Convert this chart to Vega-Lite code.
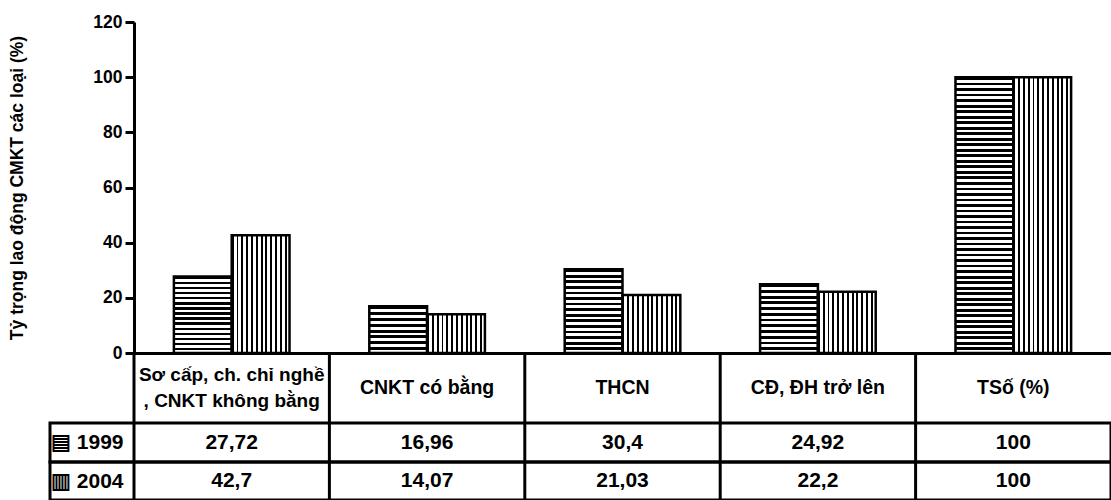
{
  "$schema": "https://vega.github.io/schema/vega-lite/v6.json",
  "padding": {"left": 8, "top": 13, "right": 0, "bottom": 0},
  "spacing": 0,
  "bounds": "flush",
  "config": {
    "view": {"stroke": null},
    "font": "Liberation Sans",
    "axis": {"domainColor": "#000", "domainWidth": 3, "tickColor": "#000", "tickWidth": 3, "labelColor": "#000", "labelFont": "Liberation Sans", "labelFontWeight": "bold", "titleFont": "Liberation Sans", "titleFontWeight": "bold", "titleColor": "#000"},
    "text": {"font": "Liberation Sans", "fontWeight": "bold", "color": "#000"},
    "locale": {"number": {"decimal": ",", "thousands": ".", "grouping": [3], "currency": ["", " đ"]}}
  },
  "data": {"values": [
    {"cat": "Sơ cấp, ch. chỉ nghề\n, CNKT không bằng", "year": "1999", "value": 27.72},
    {"cat": "Sơ cấp, ch. chỉ nghề\n, CNKT không bằng", "year": "2004", "value": 42.7},
    {"cat": "CNKT có bằng", "year": "1999", "value": 16.96},
    {"cat": "CNKT có bằng", "year": "2004", "value": 14.07},
    {"cat": "THCN", "year": "1999", "value": 30.4},
    {"cat": "THCN", "year": "2004", "value": 21.03},
    {"cat": "CĐ, ĐH trở lên", "year": "1999", "value": 24.92},
    {"cat": "CĐ, ĐH trở lên", "year": "2004", "value": 22.2},
    {"cat": "TSố (%)", "year": "1999", "value": 100},
    {"cat": "TSố (%)", "year": "2004", "value": 100}
  ]},
  "vconcat": [
    {
      "width": 1061,
      "height": 331,
      "mark": {"type": "bar", "stroke": "#000", "strokeWidth": 2.5},
      "encoding": {
        "x": {"field": "cat", "type": "nominal",
          "scale": {"domain": ["Sơ cấp, ch. chỉ nghề\n, CNKT không bằng", "CNKT có bằng", "THCN", "CĐ, ĐH trở lên", "TSố (%)"], "range": [84, 1061], "paddingInner": 0, "paddingOuter": 0},
          "axis": {"title": null, "labels": false, "ticks": false, "domain": true}},
        "xOffset": {"field": "year", "type": "nominal", "sort": null, "scale": {"paddingInner": 0, "paddingOuter": 0.69}},
        "y": {"field": "value", "type": "quantitative",
          "scale": {"domain": [0, 120], "nice": false},
          "axis": {"title": "Tỷ trọng lao động CMKT các loại (%)", "offset": -84, "values": [0, 20, 40, 60, 80, 100, 120], "grid": false, "tickSize": 9, "labelPadding": 3, "labelFontSize": 17.5, "titleFontSize": 17.5, "titlePadding": 66}},
        "fill": {
          "condition": [
            {"test": "datum.year == '2004'", "value": {"gradient": "linear", "x1": 0, "y1": 0, "x2": 1, "y2": 0, "stops": [
              {"offset": 0, "color": "#000"}, {"offset": 0.0333, "color": "#000"}, {"offset": 0.0333, "color": "#fff"}, {"offset": 0.0833, "color": "#fff"},
              {"offset": 0.0833, "color": "#000"}, {"offset": 0.1167, "color": "#000"}, {"offset": 0.1167, "color": "#fff"}, {"offset": 0.1667, "color": "#fff"},
              {"offset": 0.1667, "color": "#000"}, {"offset": 0.2, "color": "#000"}, {"offset": 0.2, "color": "#fff"}, {"offset": 0.25, "color": "#fff"},
              {"offset": 0.25, "color": "#000"}, {"offset": 0.2833, "color": "#000"}, {"offset": 0.2833, "color": "#fff"}, {"offset": 0.3333, "color": "#fff"},
              {"offset": 0.3333, "color": "#000"}, {"offset": 0.3667, "color": "#000"}, {"offset": 0.3667, "color": "#fff"}, {"offset": 0.4167, "color": "#fff"},
              {"offset": 0.4167, "color": "#000"}, {"offset": 0.45, "color": "#000"}, {"offset": 0.45, "color": "#fff"}, {"offset": 0.5, "color": "#fff"},
              {"offset": 0.5, "color": "#000"}, {"offset": 0.5333, "color": "#000"}, {"offset": 0.5333, "color": "#fff"}, {"offset": 0.5833, "color": "#fff"},
              {"offset": 0.5833, "color": "#000"}, {"offset": 0.6167, "color": "#000"}, {"offset": 0.6167, "color": "#fff"}, {"offset": 0.6667, "color": "#fff"},
              {"offset": 0.6667, "color": "#000"}, {"offset": 0.7, "color": "#000"}, {"offset": 0.7, "color": "#fff"}, {"offset": 0.75, "color": "#fff"},
              {"offset": 0.75, "color": "#000"}, {"offset": 0.7833, "color": "#000"}, {"offset": 0.7833, "color": "#fff"}, {"offset": 0.8333, "color": "#fff"},
              {"offset": 0.8333, "color": "#000"}, {"offset": 0.8667, "color": "#000"}, {"offset": 0.8667, "color": "#fff"}, {"offset": 0.9167, "color": "#fff"},
              {"offset": 0.9167, "color": "#000"}, {"offset": 0.95, "color": "#000"}, {"offset": 0.95, "color": "#fff"}, {"offset": 1, "color": "#fff"}
            ]}},
            {"test": "datum.cat == 'CNKT có bằng'", "value": {"gradient": "linear", "x1": 0, "y1": 0, "x2": 0, "y2": 1, "stops": [
              {"offset": 0, "color": "#000"}, {"offset": 0.0625, "color": "#000"}, {"offset": 0.0625, "color": "#fff"}, {"offset": 0.125, "color": "#fff"},
              {"offset": 0.125, "color": "#000"}, {"offset": 0.1875, "color": "#000"}, {"offset": 0.1875, "color": "#fff"}, {"offset": 0.25, "color": "#fff"},
              {"offset": 0.25, "color": "#000"}, {"offset": 0.3125, "color": "#000"}, {"offset": 0.3125, "color": "#fff"}, {"offset": 0.375, "color": "#fff"},
              {"offset": 0.375, "color": "#000"}, {"offset": 0.4375, "color": "#000"}, {"offset": 0.4375, "color": "#fff"}, {"offset": 0.5, "color": "#fff"},
              {"offset": 0.5, "color": "#000"}, {"offset": 0.5625, "color": "#000"}, {"offset": 0.5625, "color": "#fff"}, {"offset": 0.625, "color": "#fff"},
              {"offset": 0.625, "color": "#000"}, {"offset": 0.6875, "color": "#000"}, {"offset": 0.6875, "color": "#fff"}, {"offset": 0.75, "color": "#fff"},
              {"offset": 0.75, "color": "#000"}, {"offset": 0.8125, "color": "#000"}, {"offset": 0.8125, "color": "#fff"}, {"offset": 0.875, "color": "#fff"},
              {"offset": 0.875, "color": "#000"}, {"offset": 0.9375, "color": "#000"}, {"offset": 0.9375, "color": "#fff"}, {"offset": 1, "color": "#fff"}
            ]}},
            {"test": "datum.cat == 'CĐ, ĐH trở lên'", "value": {"gradient": "linear", "x1": 0, "y1": 0, "x2": 0, "y2": 1, "stops": [
              {"offset": 0, "color": "#000"}, {"offset": 0.0417, "color": "#000"}, {"offset": 0.0417, "color": "#fff"}, {"offset": 0.0833, "color": "#fff"},
              {"offset": 0.0833, "color": "#000"}, {"offset": 0.125, "color": "#000"}, {"offset": 0.125, "color": "#fff"}, {"offset": 0.1667, "color": "#fff"},
              {"offset": 0.1667, "color": "#000"}, {"offset": 0.2083, "color": "#000"}, {"offset": 0.2083, "color": "#fff"}, {"offset": 0.25, "color": "#fff"},
              {"offset": 0.25, "color": "#000"}, {"offset": 0.2917, "color": "#000"}, {"offset": 0.2917, "color": "#fff"}, {"offset": 0.3333, "color": "#fff"},
              {"offset": 0.3333, "color": "#000"}, {"offset": 0.375, "color": "#000"}, {"offset": 0.375, "color": "#fff"}, {"offset": 0.4167, "color": "#fff"},
              {"offset": 0.4167, "color": "#000"}, {"offset": 0.4583, "color": "#000"}, {"offset": 0.4583, "color": "#fff"}, {"offset": 0.5, "color": "#fff"},
              {"offset": 0.5, "color": "#000"}, {"offset": 0.5417, "color": "#000"}, {"offset": 0.5417, "color": "#fff"}, {"offset": 0.5833, "color": "#fff"},
              {"offset": 0.5833, "color": "#000"}, {"offset": 0.625, "color": "#000"}, {"offset": 0.625, "color": "#fff"}, {"offset": 0.6667, "color": "#fff"},
              {"offset": 0.6667, "color": "#000"}, {"offset": 0.7083, "color": "#000"}, {"offset": 0.7083, "color": "#fff"}, {"offset": 0.75, "color": "#fff"},
              {"offset": 0.75, "color": "#000"}, {"offset": 0.7917, "color": "#000"}, {"offset": 0.7917, "color": "#fff"}, {"offset": 0.8333, "color": "#fff"},
              {"offset": 0.8333, "color": "#000"}, {"offset": 0.875, "color": "#000"}, {"offset": 0.875, "color": "#fff"}, {"offset": 0.9167, "color": "#fff"},
              {"offset": 0.9167, "color": "#000"}, {"offset": 0.9583, "color": "#000"}, {"offset": 0.9583, "color": "#fff"}, {"offset": 1, "color": "#fff"}
            ]}},
            {"test": "datum.cat == 'TSố (%)'", "value": {"gradient": "linear", "x1": 0, "y1": 0, "x2": 0, "y2": 1, "stops": [
              {"offset": 0, "color": "#000"}, {"offset": 0.01, "color": "#000"}, {"offset": 0.01, "color": "#fff"}, {"offset": 0.02, "color": "#fff"},
              {"offset": 0.02, "color": "#000"}, {"offset": 0.03, "color": "#000"}, {"offset": 0.03, "color": "#fff"}, {"offset": 0.04, "color": "#fff"},
              {"offset": 0.04, "color": "#000"}, {"offset": 0.05, "color": "#000"}, {"offset": 0.05, "color": "#fff"}, {"offset": 0.06, "color": "#fff"},
              {"offset": 0.06, "color": "#000"}, {"offset": 0.07, "color": "#000"}, {"offset": 0.07, "color": "#fff"}, {"offset": 0.08, "color": "#fff"},
              {"offset": 0.08, "color": "#000"}, {"offset": 0.09, "color": "#000"}, {"offset": 0.09, "color": "#fff"}, {"offset": 0.1, "color": "#fff"},
              {"offset": 0.1, "color": "#000"}, {"offset": 0.11, "color": "#000"}, {"offset": 0.11, "color": "#fff"}, {"offset": 0.12, "color": "#fff"},
              {"offset": 0.12, "color": "#000"}, {"offset": 0.13, "color": "#000"}, {"offset": 0.13, "color": "#fff"}, {"offset": 0.14, "color": "#fff"},
              {"offset": 0.14, "color": "#000"}, {"offset": 0.15, "color": "#000"}, {"offset": 0.15, "color": "#fff"}, {"offset": 0.16, "color": "#fff"},
              {"offset": 0.16, "color": "#000"}, {"offset": 0.17, "color": "#000"}, {"offset": 0.17, "color": "#fff"}, {"offset": 0.18, "color": "#fff"},
              {"offset": 0.18, "color": "#000"}, {"offset": 0.19, "color": "#000"}, {"offset": 0.19, "color": "#fff"}, {"offset": 0.2, "color": "#fff"},
              {"offset": 0.2, "color": "#000"}, {"offset": 0.21, "color": "#000"}, {"offset": 0.21, "color": "#fff"}, {"offset": 0.22, "color": "#fff"},
              {"offset": 0.22, "color": "#000"}, {"offset": 0.23, "color": "#000"}, {"offset": 0.23, "color": "#fff"}, {"offset": 0.24, "color": "#fff"},
              {"offset": 0.24, "color": "#000"}, {"offset": 0.25, "color": "#000"}, {"offset": 0.25, "color": "#fff"}, {"offset": 0.26, "color": "#fff"},
              {"offset": 0.26, "color": "#000"}, {"offset": 0.27, "color": "#000"}, {"offset": 0.27, "color": "#fff"}, {"offset": 0.28, "color": "#fff"},
              {"offset": 0.28, "color": "#000"}, {"offset": 0.29, "color": "#000"}, {"offset": 0.29, "color": "#fff"}, {"offset": 0.3, "color": "#fff"},
              {"offset": 0.3, "color": "#000"}, {"offset": 0.31, "color": "#000"}, {"offset": 0.31, "color": "#fff"}, {"offset": 0.32, "color": "#fff"},
              {"offset": 0.32, "color": "#000"}, {"offset": 0.33, "color": "#000"}, {"offset": 0.33, "color": "#fff"}, {"offset": 0.34, "color": "#fff"},
              {"offset": 0.34, "color": "#000"}, {"offset": 0.35, "color": "#000"}, {"offset": 0.35, "color": "#fff"}, {"offset": 0.36, "color": "#fff"},
              {"offset": 0.36, "color": "#000"}, {"offset": 0.37, "color": "#000"}, {"offset": 0.37, "color": "#fff"}, {"offset": 0.38, "color": "#fff"},
              {"offset": 0.38, "color": "#000"}, {"offset": 0.39, "color": "#000"}, {"offset": 0.39, "color": "#fff"}, {"offset": 0.4, "color": "#fff"},
              {"offset": 0.4, "color": "#000"}, {"offset": 0.41, "color": "#000"}, {"offset": 0.41, "color": "#fff"}, {"offset": 0.42, "color": "#fff"},
              {"offset": 0.42, "color": "#000"}, {"offset": 0.43, "color": "#000"}, {"offset": 0.43, "color": "#fff"}, {"offset": 0.44, "color": "#fff"},
              {"offset": 0.44, "color": "#000"}, {"offset": 0.45, "color": "#000"}, {"offset": 0.45, "color": "#fff"}, {"offset": 0.46, "color": "#fff"},
              {"offset": 0.46, "color": "#000"}, {"offset": 0.47, "color": "#000"}, {"offset": 0.47, "color": "#fff"}, {"offset": 0.48, "color": "#fff"},
              {"offset": 0.48, "color": "#000"}, {"offset": 0.49, "color": "#000"}, {"offset": 0.49, "color": "#fff"}, {"offset": 0.5, "color": "#fff"},
              {"offset": 0.5, "color": "#000"}, {"offset": 0.51, "color": "#000"}, {"offset": 0.51, "color": "#fff"}, {"offset": 0.52, "color": "#fff"},
              {"offset": 0.52, "color": "#000"}, {"offset": 0.53, "color": "#000"}, {"offset": 0.53, "color": "#fff"}, {"offset": 0.54, "color": "#fff"},
              {"offset": 0.54, "color": "#000"}, {"offset": 0.55, "color": "#000"}, {"offset": 0.55, "color": "#fff"}, {"offset": 0.56, "color": "#fff"},
              {"offset": 0.56, "color": "#000"}, {"offset": 0.57, "color": "#000"}, {"offset": 0.57, "color": "#fff"}, {"offset": 0.58, "color": "#fff"},
              {"offset": 0.58, "color": "#000"}, {"offset": 0.59, "color": "#000"}, {"offset": 0.59, "color": "#fff"}, {"offset": 0.6, "color": "#fff"},
              {"offset": 0.6, "color": "#000"}, {"offset": 0.61, "color": "#000"}, {"offset": 0.61, "color": "#fff"}, {"offset": 0.62, "color": "#fff"},
              {"offset": 0.62, "color": "#000"}, {"offset": 0.63, "color": "#000"}, {"offset": 0.63, "color": "#fff"}, {"offset": 0.64, "color": "#fff"},
              {"offset": 0.64, "color": "#000"}, {"offset": 0.65, "color": "#000"}, {"offset": 0.65, "color": "#fff"}, {"offset": 0.66, "color": "#fff"},
              {"offset": 0.66, "color": "#000"}, {"offset": 0.67, "color": "#000"}, {"offset": 0.67, "color": "#fff"}, {"offset": 0.68, "color": "#fff"},
              {"offset": 0.68, "color": "#000"}, {"offset": 0.69, "color": "#000"}, {"offset": 0.69, "color": "#fff"}, {"offset": 0.7, "color": "#fff"},
              {"offset": 0.7, "color": "#000"}, {"offset": 0.71, "color": "#000"}, {"offset": 0.71, "color": "#fff"}, {"offset": 0.72, "color": "#fff"},
              {"offset": 0.72, "color": "#000"}, {"offset": 0.73, "color": "#000"}, {"offset": 0.73, "color": "#fff"}, {"offset": 0.74, "color": "#fff"},
              {"offset": 0.74, "color": "#000"}, {"offset": 0.75, "color": "#000"}, {"offset": 0.75, "color": "#fff"}, {"offset": 0.76, "color": "#fff"},
              {"offset": 0.76, "color": "#000"}, {"offset": 0.77, "color": "#000"}, {"offset": 0.77, "color": "#fff"}, {"offset": 0.78, "color": "#fff"},
              {"offset": 0.78, "color": "#000"}, {"offset": 0.79, "color": "#000"}, {"offset": 0.79, "color": "#fff"}, {"offset": 0.8, "color": "#fff"},
              {"offset": 0.8, "color": "#000"}, {"offset": 0.81, "color": "#000"}, {"offset": 0.81, "color": "#fff"}, {"offset": 0.82, "color": "#fff"},
              {"offset": 0.82, "color": "#000"}, {"offset": 0.83, "color": "#000"}, {"offset": 0.83, "color": "#fff"}, {"offset": 0.84, "color": "#fff"},
              {"offset": 0.84, "color": "#000"}, {"offset": 0.85, "color": "#000"}, {"offset": 0.85, "color": "#fff"}, {"offset": 0.86, "color": "#fff"},
              {"offset": 0.86, "color": "#000"}, {"offset": 0.87, "color": "#000"}, {"offset": 0.87, "color": "#fff"}, {"offset": 0.88, "color": "#fff"},
              {"offset": 0.88, "color": "#000"}, {"offset": 0.89, "color": "#000"}, {"offset": 0.89, "color": "#fff"}, {"offset": 0.9, "color": "#fff"},
              {"offset": 0.9, "color": "#000"}, {"offset": 0.91, "color": "#000"}, {"offset": 0.91, "color": "#fff"}, {"offset": 0.92, "color": "#fff"},
              {"offset": 0.92, "color": "#000"}, {"offset": 0.93, "color": "#000"}, {"offset": 0.93, "color": "#fff"}, {"offset": 0.94, "color": "#fff"},
              {"offset": 0.94, "color": "#000"}, {"offset": 0.95, "color": "#000"}, {"offset": 0.95, "color": "#fff"}, {"offset": 0.96, "color": "#fff"},
              {"offset": 0.96, "color": "#000"}, {"offset": 0.97, "color": "#000"}, {"offset": 0.97, "color": "#fff"}, {"offset": 0.98, "color": "#fff"},
              {"offset": 0.98, "color": "#000"}, {"offset": 0.99, "color": "#000"}, {"offset": 0.99, "color": "#fff"}, {"offset": 1, "color": "#fff"}
            ]}}
          ],
          "value": {"gradient": "linear", "x1": 0, "y1": 0, "x2": 0, "y2": 1, "stops": [
            {"offset": 0, "color": "#000"}, {"offset": 0.0333, "color": "#000"}, {"offset": 0.0333, "color": "#fff"}, {"offset": 0.0667, "color": "#fff"},
            {"offset": 0.0667, "color": "#000"}, {"offset": 0.1, "color": "#000"}, {"offset": 0.1, "color": "#fff"}, {"offset": 0.1333, "color": "#fff"},
            {"offset": 0.1333, "color": "#000"}, {"offset": 0.1667, "color": "#000"}, {"offset": 0.1667, "color": "#fff"}, {"offset": 0.2, "color": "#fff"},
            {"offset": 0.2, "color": "#000"}, {"offset": 0.2333, "color": "#000"}, {"offset": 0.2333, "color": "#fff"}, {"offset": 0.2667, "color": "#fff"},
            {"offset": 0.2667, "color": "#000"}, {"offset": 0.3, "color": "#000"}, {"offset": 0.3, "color": "#fff"}, {"offset": 0.3333, "color": "#fff"},
            {"offset": 0.3333, "color": "#000"}, {"offset": 0.3667, "color": "#000"}, {"offset": 0.3667, "color": "#fff"}, {"offset": 0.4, "color": "#fff"},
            {"offset": 0.4, "color": "#000"}, {"offset": 0.4333, "color": "#000"}, {"offset": 0.4333, "color": "#fff"}, {"offset": 0.4667, "color": "#fff"},
            {"offset": 0.4667, "color": "#000"}, {"offset": 0.5, "color": "#000"}, {"offset": 0.5, "color": "#fff"}, {"offset": 0.5333, "color": "#fff"},
            {"offset": 0.5333, "color": "#000"}, {"offset": 0.5667, "color": "#000"}, {"offset": 0.5667, "color": "#fff"}, {"offset": 0.6, "color": "#fff"},
            {"offset": 0.6, "color": "#000"}, {"offset": 0.6333, "color": "#000"}, {"offset": 0.6333, "color": "#fff"}, {"offset": 0.6667, "color": "#fff"},
            {"offset": 0.6667, "color": "#000"}, {"offset": 0.7, "color": "#000"}, {"offset": 0.7, "color": "#fff"}, {"offset": 0.7333, "color": "#fff"},
            {"offset": 0.7333, "color": "#000"}, {"offset": 0.7667, "color": "#000"}, {"offset": 0.7667, "color": "#fff"}, {"offset": 0.8, "color": "#fff"},
            {"offset": 0.8, "color": "#000"}, {"offset": 0.8333, "color": "#000"}, {"offset": 0.8333, "color": "#fff"}, {"offset": 0.8667, "color": "#fff"},
            {"offset": 0.8667, "color": "#000"}, {"offset": 0.9, "color": "#000"}, {"offset": 0.9, "color": "#fff"}, {"offset": 0.9333, "color": "#fff"},
            {"offset": 0.9333, "color": "#000"}, {"offset": 0.9667, "color": "#000"}, {"offset": 0.9667, "color": "#fff"}, {"offset": 1, "color": "#fff"}
          ]}
        }
      }
    },
    {
      "width": 1061,
      "height": 70,
      "transform": [{"filter": "datum.year == '1999'"}],
      "encoding": {
        "x": {"field": "cat", "type": "nominal",
          "scale": {"domain": ["Sơ cấp, ch. chỉ nghề\n, CNKT không bằng", "CNKT có bằng", "THCN", "CĐ, ĐH trở lên", "TSố (%)"], "range": [84, 1061], "paddingInner": 0, "paddingOuter": 0},
          "axis": null}
      },
      "layer": [
        {"mark": {"type": "rule", "color": "#000", "strokeWidth": 3}, "encoding": {"x": {"field": "cat", "type": "nominal", "bandPosition": 0}}},
        {"transform": [{"filter": "indexof(datum.cat, '\\n') < 0"}], "mark": {"type": "text", "fontSize": 19.5, "baseline": "middle"}, "encoding": {"text": {"field": "cat", "type": "nominal"}}},
        {"transform": [{"filter": "indexof(datum.cat, '\\n') >= 0"}], "mark": {"type": "text", "fontSize": 19, "baseline": "middle", "lineBreak": "\n", "lineHeight": 26, "dy": -13}, "encoding": {"text": {"field": "cat", "type": "nominal"}}}
      ]
    },
    {
      "width": 1061,
      "height": 39,
      "view": {"stroke": "#000", "strokeWidth": 3},
      "transform": [{"filter": "datum.year == '1999'"}],
      "encoding": {
        "x": {"field": "cat", "type": "nominal",
          "scale": {"domain": ["Sơ cấp, ch. chỉ nghề\n, CNKT không bằng", "CNKT có bằng", "THCN", "CĐ, ĐH trở lên", "TSố (%)"], "range": [84, 1061], "paddingInner": 0, "paddingOuter": 0},
          "axis": null}
      },
      "layer": [
        {"mark": {"type": "rule", "color": "#000", "strokeWidth": 3}, "encoding": {"x": {"field": "cat", "type": "nominal", "bandPosition": 0}}},
        {"mark": {"type": "text", "fontSize": 21},
          "encoding": {
            "y": {"field": "year", "type": "nominal", "scale": {"paddingInner": 0, "paddingOuter": 0},
              "axis": {"title": null, "offset": -84, "domain": false, "ticks": false, "grid": false, "labelPadding": 11, "labelBaseline": "middle", "labelFontSize": 21, "labelExpr": "'▤ ' + datum.label"}},
            "text": {"field": "value", "type": "quantitative", "format": "~g"}
          }}
      ]
    },
    {
      "width": 1061,
      "height": 38,
      "view": {"stroke": "#000", "strokeWidth": 3},
      "transform": [{"filter": "datum.year == '2004'"}],
      "encoding": {
        "x": {"field": "cat", "type": "nominal",
          "scale": {"domain": ["Sơ cấp, ch. chỉ nghề\n, CNKT không bằng", "CNKT có bằng", "THCN", "CĐ, ĐH trở lên", "TSố (%)"], "range": [84, 1061], "paddingInner": 0, "paddingOuter": 0},
          "axis": null}
      },
      "layer": [
        {"mark": {"type": "rule", "color": "#000", "strokeWidth": 3}, "encoding": {"x": {"field": "cat", "type": "nominal", "bandPosition": 0}}},
        {"mark": {"type": "text", "fontSize": 21},
          "encoding": {
            "y": {"field": "year", "type": "nominal", "scale": {"paddingInner": 0, "paddingOuter": 0},
              "axis": {"title": null, "offset": -84, "domain": false, "ticks": false, "grid": false, "labelPadding": 11, "labelBaseline": "middle", "labelFontSize": 21, "labelExpr": "'▥ ' + datum.label"}},
            "text": {"field": "value", "type": "quantitative", "format": "~g"}
          }}
      ]
    }
  ]
}
